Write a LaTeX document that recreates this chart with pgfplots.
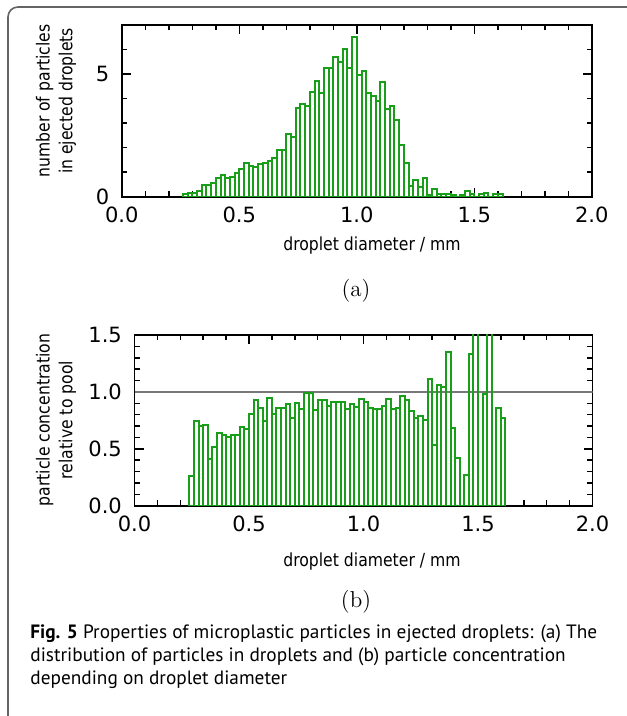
\documentclass[border=0pt]{standalone}
\usepackage{fontspec}
\usepackage{graphicx}
\usepackage{pgfplots}
\pgfplotsset{compat=1.18}
\newfontfamily\dejavu{DejaVu Sans}
\newfontfamily\ptsans{PT Sans}
\definecolor{bargreen}{RGB}{25,158,25}
\definecolor{framegray}{RGB}{100,100,100}
\definecolor{refgray}{RGB}{120,120,120}

\pgfplotsset{
  myaxis/.style={
    scale only axis, anchor=south west,
    xmin=0, xmax=2,
    xtick={0,0.5,1,1.5,2},
    xticklabels={0.0,0.5,1.0,1.5,2.0},
    minor x tick num=4,
    tick align=inside,
    major tick length=4.5pt, minor tick length=2.6pt,
    axis line style={line width=0.9pt},
    every tick/.style={black, line width=0.75pt},
    tick label style={font=\fontsize{10.5}{12}\dejavu},
    x tick label style={yshift=-1.6pt},
    y tick label style={xshift=-2.8pt},
    clip=true,
  },
  bars/.style={ybar interval, draw=bargreen, fill=none, line width=1pt},
}
\newcommand{\lab}[1]{\scalebox{0.87}[1]{#1}}

\begin{document}
\begin{tikzpicture}
\path[use as bounding box] (0,0) rectangle (313pt,358pt);
\draw[framegray, line width=0.8pt, rounded corners=5pt] (340pt,354.5pt) -- (4pt,354.5pt) -- (4pt,-20pt);

% ---------- panel (a)
\begin{axis}[myaxis,
  at={(60.9pt,259.65pt)}, width=235pt, height=85.85pt,
  ymin=0, ymax=7, ytick={0,5}, yticklabels={0,5},
  minor ytick={1,2,3,4,6}]
\addplot[bars] coordinates {
(0.26,0.09) (0.28,0.17) (0.30,0.17) (0.32,0.24) (0.34,0.48) (0.36,0.48)
(0.38,0.56) (0.40,0.75) (0.42,0.87) (0.44,0.77) (0.46,0.82) (0.48,0.95)
(0.50,1.14) (0.52,1.38) (0.54,1.26) (0.56,1.20) (0.58,1.33) (0.60,1.38)
(0.62,1.45) (0.64,1.59) (0.66,1.91) (0.68,1.91) (0.70,2.54) (0.72,2.42)
(0.74,3.63) (0.76,3.76) (0.78,3.70) (0.80,4.27) (0.82,4.72) (0.84,4.22)
(0.86,5.23) (0.88,5.23) (0.90,5.70) (0.92,5.49) (0.94,6.01) (0.96,5.23)
(0.98,6.50) (1.00,4.95) (1.02,5.13) (1.04,4.23) (1.06,4.10) (1.08,3.90)
(1.10,4.68) (1.12,3.59) (1.14,3.71) (1.16,3.13) (1.18,2.11) (1.20,1.39)
(1.22,0.43) (1.24,0.69) (1.26,0.38) (1.28,0.76) (1.30,0.08) (1.32,0.30)
(1.34,0.12) (1.36,0.12) (1.38,0.12) (1.40,0.05) (1.42,0) (1.44,0.05)
(1.46,0.24) (1.48,0.12) (1.50,0) (1.52,0.12) (1.54,0.17) (1.56,0)
(1.58,0.12) (1.60,0.12) (1.62,0)
};
\end{axis}

% ---------- panel (b)
\begin{axis}[myaxis,
  at={(67.25pt,105.15pt)}, width=229pt, height=85.35pt,
  ymin=0, ymax=1.5, ytick={0,0.5,1,1.5}, yticklabels={0.0,0.5,1.0,1.5},
  minor y tick num=4]
\addplot[refgray, line width=0.7pt] coordinates {(0,1) (2,1)};
\addplot[bars] coordinates {
(0.24,0.26) (0.26,0.74) (0.28,0.70) (0.30,0.71) (0.32,0.41) (0.34,0.52)
(0.36,0.64) (0.38,0.62) (0.40,0.60) (0.42,0.62) (0.44,0.62) (0.46,0.69)
(0.48,0.67) (0.50,0.81) (0.52,0.93) (0.54,0.86) (0.56,0.74) (0.58,0.95)
(0.60,0.81) (0.62,0.86) (0.64,0.86) (0.66,0.89) (0.68,0.77) (0.70,0.90)
(0.72,0.85) (0.74,0.99) (0.76,0.99) (0.78,0.84) (0.80,0.93) (0.82,0.93)
(0.84,0.88) (0.86,0.91) (0.88,0.91) (0.90,0.91) (0.92,0.85) (0.94,0.89)
(0.96,0.87) (0.98,0.94) (1.00,0.91) (1.02,0.86) (1.04,0.85) (1.06,0.85)
(1.08,0.88) (1.10,0.94) (1.12,0.85) (1.14,0.86) (1.16,0.96) (1.18,0.93)
(1.20,0.83) (1.22,0.77) (1.24,0.79) (1.26,0.75) (1.28,1.11) (1.30,0.53)
(1.32,1.06) (1.34,1.04) (1.36,1.35) (1.38,0.68) (1.40,0.42) (1.42,0)
(1.44,0.27) (1.46,1.33) (1.48,1.90) (1.50,0) (1.52,0.98) (1.54,1.90)
(1.56,0) (1.58,0.86) (1.60,0.77) (1.62,0)
};
\end{axis}

% ---------- labels
\node[rotate=90, font=\fontsize{9}{11.3}\dejavu] at (28.25pt,307.5pt) {\lab{\begin{tabular}{@{}c@{}}number of particles\\in ejected droplets\end{tabular}}};
\node[rotate=90, font=\fontsize{9}{11.3}\dejavu] at (28.25pt,148pt) {\lab{\begin{tabular}{@{}c@{}}particle concentration\\relative to pool\end{tabular}}};
\node[font=\fontsize{9}{11}\dejavu] at (186pt,235pt) {\lab{droplet diameter / mm}};
\node[font=\fontsize{9}{11}\dejavu] at (186pt,77pt) {\lab{droplet diameter / mm}};
\node[font=\fontsize{11.5}{13}\selectfont] at (178pt,212.5pt) {(a)};
\node[font=\fontsize{11.5}{13}\selectfont] at (178pt,57pt) {(b)};

% ---------- caption
\node[anchor=base west, inner sep=0pt, font=\fontsize{9.65}{11}\ptsans] at (15pt,38.5pt) {\textbf{Fig. 5} Properties of microplastic particles in ejected droplets: (a) The};
\node[anchor=base west, inner sep=0pt, font=\fontsize{9.65}{11}\ptsans] at (15pt,27pt) {distribution of particles in droplets and (b) particle concentration};
\node[anchor=base west, inner sep=0pt, font=\fontsize{9.65}{11}\ptsans] at (15pt,15.7pt) {depending on droplet diameter};
\end{tikzpicture}
\end{document}
